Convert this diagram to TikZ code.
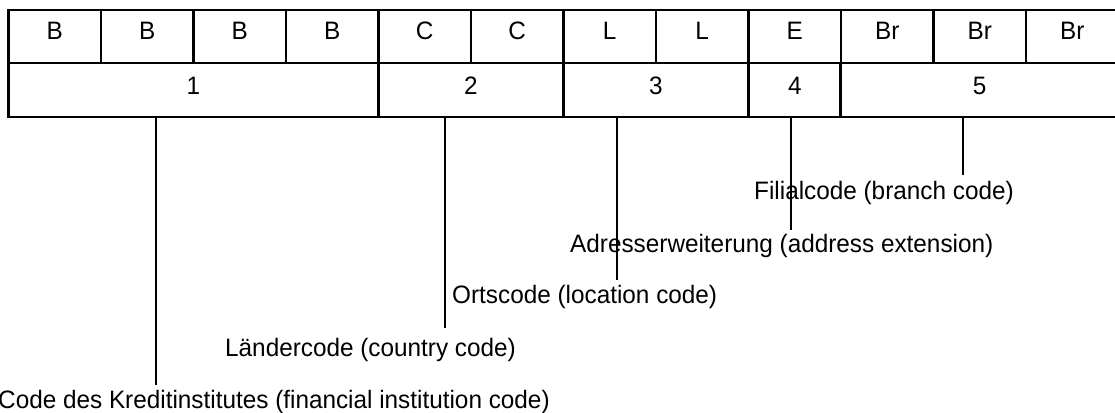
\documentclass[tikz,border=0pt]{standalone}
\usepackage{fontspec}
\setmainfont[FakeStretch=0.965]{Liberation Sans}
\begin{document}
\begin{tikzpicture}[x=1pt,y=-1pt,
  txt/.style={font=\fontsize{25.2}{29}\selectfont},
  cell/.style={txt, draw, line width=2.6pt, inner sep=0pt, minimum height=53pt},
  toprow/.style={cell, minimum width=92.5pt, text height=20pt, text depth=14.4pt},
  botrow/.style={cell, minimum height=54pt, text height=22pt, text depth=12.4pt},
  conn/.style={draw, line width=2pt},
  lab/.style={txt, inner sep=0pt, anchor=base west}]
\useasboundingbox (0,0) rectangle (1115,412);
% upper row
\foreach \t [count=\i from 0] in {B,B,B,B,C,C,L,L,E,Br,Br,Br}
  \node[toprow] (u\i) at ({8.5+92.5*(\i+0.5)},36.5) {\t};
% lower row
\node[botrow, minimum width=370pt]   (l1) at (193.5,90) {1};
\node[botrow, minimum width=185pt]   (l2) at (471,90) {2};
\node[botrow, minimum width=185pt]   (l3) at (656,90) {3};
\node[botrow, minimum width=92.5pt]  (l4) at (794.75,90) {4};
\node[botrow, minimum width=277.5pt] (l5) at (979.5,90) {5};
% connector ends
\coordinate (e1) at (156,385);
\coordinate (e2) at (445,328);
\coordinate (e3) at (617,280);
\coordinate (e4) at (790.5,230);
\coordinate (e5) at (962.5,175);
\draw[conn] (l1.south -| e1) -- (e1);
\draw[conn] (l2.south -| e2) -- (e2);
\draw[conn] (l3.south -| e3) -- (e3);
\draw[conn] (l4.south -| e4) -- (e4);
\draw[conn] (l5.south -| e5) -- (e5);
% labels
\node[lab] (t5) at (754,199.5) {Filialcode (branch code)};
\node[lab] (t4) at (570,252.5) {Adresserweiterung (address extension)};
\node[lab] (t3) at (452,303) {Ortscode (location code)};
\node[lab] (t2) at (225,356.5) {Ländercode (country code)};
\node[lab] (t1) at (-2,408) {Code des Kreditinstitutes (financial institution code)};
\end{tikzpicture}
\end{document}
